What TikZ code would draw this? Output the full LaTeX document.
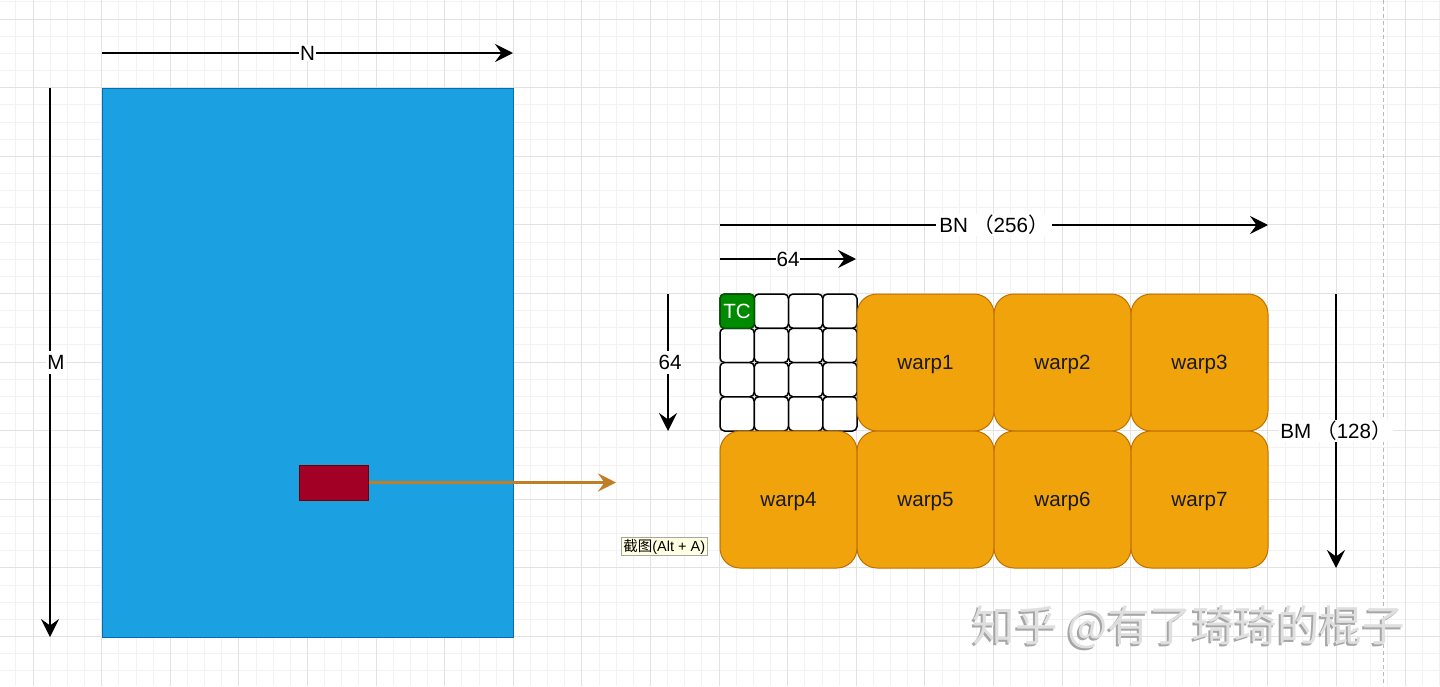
\documentclass[tikz,border=0pt]{standalone}
\usepackage{fontspec}
\setmainfont{Liberation Sans}
\newfontfamily\cjk{Noto Sans CJK SC}
\usetikzlibrary{arrows.meta}
\definecolor{gridminor}{HTML}{F2F2F2}
\definecolor{gridmajor}{HTML}{E2E2E2}
\definecolor{blueFill}{HTML}{1BA1E2}
\definecolor{blueLine}{HTML}{006EAF}
\definecolor{redFill}{HTML}{A20025}
\definecolor{redLine}{HTML}{6F0000}
\definecolor{orangeFill}{HTML}{F0A30A}
\definecolor{orangeLine}{HTML}{BD7000}
\definecolor{linkLine}{HTML}{BF7F26}
\definecolor{greenFill}{HTML}{008A00}
\definecolor{greenLine}{HTML}{005700}
\definecolor{tipFill}{HTML}{FFFFE1}
\tikzset{
  bigfont/.style={font=\fontsize{20.6}{24}\selectfont},
  bigtip/.style={-{Stealth[length=18pt,width=18pt,inset=6.5pt]}},
  dimarrow/.style={line width=2pt, bigtip},
  lbl/.style={bigfont, fill=white, inner sep=1pt},
  cellbox/.style={draw=black, fill=white, line width=1.5pt, rounded corners=4.5pt,
    minimum width=34.25pt, minimum height=34.25pt, inner sep=0pt},
  warpbox/.style={draw=orangeLine, fill=orangeFill, line width=1pt, rounded corners=20pt,
    minimum width=137pt, minimum height=137pt, inner sep=0pt, bigfont, text=black!90,
    text height=18.6pt, text depth=4.4pt},
}
\begin{document}
\begin{tikzpicture}[x=1pt,y=-1pt]
\useasboundingbox (0,0) rectangle (1440,686);
\fill[white] (0,0) rectangle (1440,686);
% grid
\foreach \i in {-1,...,82} \draw[gridminor, line width=0.8pt] ({33+17.15*\i},0) -- ({33+17.15*\i},686);
\foreach \i in {-1,...,39} \draw[gridminor, line width=0.8pt] (0,{19+17.15*\i}) -- (1440,{19+17.15*\i});
\foreach \i in {0,...,20} \draw[gridmajor, line width=0.9pt] ({33+68.6*\i},0) -- ({33+68.6*\i},686);
\foreach \i in {0,...,9} \draw[gridmajor, line width=0.9pt] (0,{19+68.6*\i}) -- (1440,{19+68.6*\i});
% page break dashed line
\coordinate (pbT) at (1383,0);
\coordinate (pbB) at (1383,686);
\draw[gray!55, line width=0.8pt, dash pattern=on 4pt off 3pt] (pbT) -- (pbB);

% matrix
\node[draw=blueLine, fill=blueFill, line width=1pt, minimum width=411pt, minimum height=549pt, inner sep=0pt] (mat) at (307.5,362.5) {};
\node[draw=redLine, fill=redFill, line width=1pt, minimum width=69pt, minimum height=35pt, inner sep=0pt] (blk) at (333.5,482.5) {};

% N and M arrows
\coordinate (nS) at (102,53);
\coordinate (nE) at (513,53);
\draw[dimarrow] (nS) -- node[lbl]{N} (nE);
\coordinate (mS) at (50,88);
\coordinate (mE) at (50,637);
\draw[dimarrow] (mS) -- node[lbl, xshift=6pt, inner ysep=4pt]{M} (mE);

% link arrow
\coordinate (linkE) at (616,482.5);
\draw[linkLine, line width=2.2pt, bigtip] (blk.east) -- (linkE);

% tile cells
\foreach \r in {0,...,3} {
  \foreach \c in {0,...,3} {
    \node[cellbox] (cell\r\c) at ({720+34.25*(\c+0.5)},{294+34.25*(\r+0.5)}) {};
  }
}
\node[cellbox, draw=greenLine, fill=greenFill, text=white, bigfont] (tc) at (cell00) {TC};

% warps
\node[warpbox] (w1) at (925.5,362.5) {warp1};
\node[warpbox] (w2) at (1062.5,362.5) {warp2};
\node[warpbox] (w3) at (1199.5,362.5) {warp3};
\node[warpbox] (w4) at (788.5,499.5) {warp4};
\node[warpbox] (w5) at (925.5,499.5) {warp5};
\node[warpbox] (w6) at (1062.5,499.5) {warp6};
\node[warpbox] (w7) at (1199.5,499.5) {warp7};

% dimension arrows on tile
\coordinate (bnS) at (720,225);
\coordinate (bnE) at (1268,225);
\draw[dimarrow] (bnS) -- node[lbl, inner xsep=3pt]{BN\hspace{5pt}{\cjk （}256{\cjk ）}} (bnE);
\coordinate (sixS) at (720,259);
\coordinate (sixE) at (856,259);
\draw[dimarrow] (sixS) -- node[lbl]{64} (sixE);
\coordinate (sixvS) at (668,294);
\coordinate (sixvE) at (668,431);
\draw[dimarrow] (sixvS) -- node[lbl, xshift=2pt, inner ysep=4pt]{64} (sixvE);
\coordinate (bmS) at (1336,294);
\coordinate (bmE) at (1336,568);
\draw[dimarrow] (bmS) -- node[lbl]{BM\hspace{5pt}{\cjk （}128{\cjk ）}} (bmE);

% tooltip
\node[draw=gray!70, fill=tipFill, line width=0.7pt, inner xsep=2pt, inner ysep=1.5pt,
  font=\fontsize{14.5}{16}\selectfont, anchor=west] (tip) at (621,546.5) {{\cjk 截图}(Alt + A)};

% watermark
\node[font=\cjk\fontsize{42.5}{46}\selectfont, text=gray!70, anchor=west] (wmS) at (967,629.5) {知乎 @有了琦琦的棍子};
\node[font=\cjk\fontsize{42.5}{46}\selectfont, text=gray!25, anchor=west] (wm) at (969,627.5) {知乎 @有了琦琦的棍子};
\end{tikzpicture}
\end{document}
